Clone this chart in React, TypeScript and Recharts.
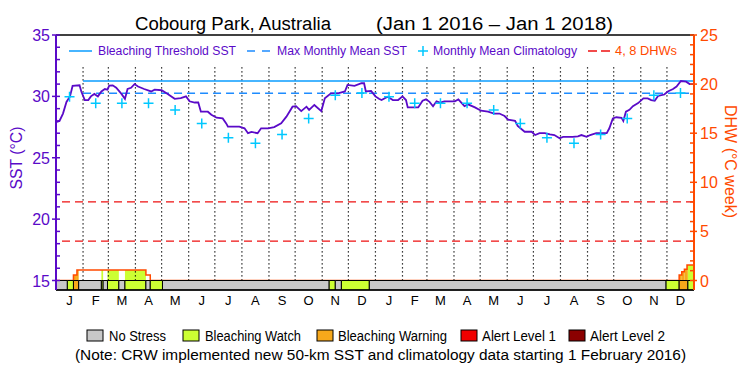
import {
  ComposedChart,
  Line,
  Area,
  XAxis,
  YAxis,
  ReferenceLine,
  ReferenceArea,
} from 'recharts';

// day 0 = Jan 1 2016, day 731 = Jan 1 2018
const monthStarts = [0, 31, 60, 91, 121, 152, 182, 213, 244, 274, 305, 335, 366, 397, 425, 456, 486, 517, 547, 578, 609, 639, 670, 700, 731];
const monthLetters = ['J', 'F', 'M', 'A', 'M', 'J', 'J', 'A', 'S', 'O', 'N', 'D'];
const yearLabels = ['2016', '2017'];
const yearMids = [183, 548];

const sstTicks = [15, 16, 17, 18, 19, 20, 21, 22, 23, 24, 25, 26, 27, 28, 29, 30, 31, 32, 33, 34, 35];
const dhwTicks = [0, 1, 2, 3, 4, 5, 6, 7, 8, 9, 10, 11, 12, 13, 14, 15, 16, 17, 18, 19, 20, 21, 22, 23, 24, 25];

const sstDays = [
  0, 4, 8, 12, 16, 19, 27, 29, 33, 37, 40, 44, 48, 52, 56, 59, 61, 65, 69, 75, 79, 82, 86, 90, 94,
  101, 109, 113, 121, 128, 136, 143, 149, 153, 159, 163, 166, 174, 178, 184, 191, 195, 197, 210,
  216, 220, 224, 231, 235, 243, 250, 258, 264, 271, 275, 281, 287, 290, 296, 304, 308, 315, 323,
  331, 334, 342, 350, 353, 355, 361, 366, 370, 373, 380, 386, 392, 397, 401, 403, 415, 420, 424,
  428, 432, 436, 440, 445, 457, 461, 468, 472, 480, 487, 495, 502, 508, 514, 518, 526, 529, 537,
  545, 549, 554, 560, 566, 571, 577, 581, 592, 598, 602, 608, 612, 619, 631, 634, 638, 642, 648,
  650, 653, 657, 661, 667, 673, 678, 682, 686, 690, 697, 701, 707, 711, 716, 722, 726, 731,
];
const sstValues = [
  27.9, 28.0, 28.6, 29.55, 30.0, 30.85, 30.9, 30.4, 29.7, 29.7, 30.0, 30.2, 30.0, 30.4, 30.6, 30.55,
  30.87, 30.9, 30.7, 30.2, 29.8, 30.6, 30.7, 31.0, 30.8, 30.6, 30.4, 30.55, 30.5, 30.2, 29.8, 29.85,
  30.0, 29.6, 29.5, 29.5, 28.75, 28.75, 28.5, 28.26, 28.2, 27.8, 27.53, 27.53, 27.4, 27.0, 27.1,
  27.0, 27.4, 27.4, 27.5, 27.8, 28.35, 29.16, 29.2, 28.8, 29.16, 28.9, 29.3, 28.8, 29.84, 30.25,
  30.25, 30.4, 30.93, 30.85, 31.07, 31.07, 30.4, 30.45, 30.0, 29.8, 29.7, 29.97, 29.7, 29.7, 30.0,
  29.7, 29.1, 29.1, 29.65, 29.76, 29.55, 29.2, 29.6, 29.5, 29.6, 29.6, 29.75, 29.2, 29.35, 29.1,
  28.83, 28.75, 28.6, 28.6, 28.4, 28.1, 28.0, 27.6, 27.12, 27.12, 26.85, 27.0, 27.0, 26.9, 26.85,
  26.58, 26.7, 26.7, 26.75, 26.85, 26.7, 26.85, 27.0, 27.0, 27.4, 28.2, 28.3, 28.25, 28.0, 28.75,
  28.9, 29.2, 29.45, 29.84, 29.84, 29.7, 29.65, 30.05, 30.15, 30.4, 30.6, 30.8, 31.25, 31.2, 31.0,
  31.0,
];

// monthly mean climatology, Jan..Dec
const climatology = [29.97, 29.44, 29.44, 29.44, 28.9, 27.8, 26.62, 26.18, 26.9, 28.2, 30.1, 30.28];

const maxMonthlyMean = 30.25;
const bleachingThreshold = 31.25;
const newClimStart = 31; // 1 Feb 2016
const dhwLevels = [4, 8];

const dhwDays = [0, 20, 24, 103, 108, 714, 717, 720, 723, 731];
const dhwValues = [0, 0.56, 1.07, 0.56, 0, 0.56, 0.9, 1.14, 1.58, 1.58];

// 0 no stress, 1 watch, 2 warning, 3 alert 1, 4 alert 2
const stressStarts = [0, 13, 20, 26, 52, 54, 59, 72, 79, 103, 108, 122, 313, 320, 327, 359, 699, 714, 724];
const stressLevels = [0, 1, 2, 0, 1, 0, 1, 0, 1, 0, 1, 0, 1, 0, 1, 0, 1, 2, 1];

const stressNames = ['No Stress', 'Bleaching Watch', 'Bleaching Warning', 'Alert Level 1', 'Alert Level 2'];
const stressColors = ['#c8c8c8', '#ccff33', '#f7a81b', '#f00000', '#8b0000'];

const PURPLE = '#5a0ac8';
const ORANGE = '#ff4a00';
const BLUE = '#0a9cff';
const MMM_BLUE = '#1e8cff';
const CYAN = '#00c8ff';
const RED = '#ee1111';
const FONT = '"Liberation Sans", Arial, sans-serif';

const END_DAY = 731;
const SST_MIN = 15 - 9.5 / 12.275;
const DHW_MIN = (SST_MIN - 15) / 0.8;

const sstData = sstDays.map((d, i) => ({ day: d, sst: sstValues[i] }));
const monthMids = monthStarts.slice(0, -1).map((s, i) => (s + monthStarts[i + 1]) / 2);
const climData = monthMids.map((d, i) => ({ day: d, sst: climatology[i % 12] }));
const dhwData = dhwDays.map((d, i) => ({ day: d, dhw: dhwValues[i] }));
const stressSegs = stressStarts.map((s, i) => ({
  x1: s,
  x2: i + 1 < stressStarts.length ? stressStarts[i + 1] : END_DAY,
  level: stressLevels[i],
}));

// colour the area under the DHW curve by stress level
const dhwFills: { x1: number; x2: number; v: number; level: number }[] = [];
for (let i = 0; i < dhwDays.length - 1; i++) {
  const v = dhwValues[i];
  if (v <= 0) continue;
  stressSegs.forEach((s) => {
    if (s.level === 0) return;
    const lo = Math.max(dhwDays[i], s.x1);
    const hi = Math.min(dhwDays[i + 1], s.x2);
    if (hi > lo) dhwFills.push({ x1: lo, x2: hi, v, level: s.level });
  });
}

const LeftTick = (props: any) => {
  const { x, y, payload } = props;
  const v = payload.value;
  const major = v % 5 === 0;
  return (
    <g>
      <line x1={major ? x - 4 : x} x2={x + 4} y1={y} y2={y} stroke={PURPLE} strokeWidth={1.5} />
      {major && (
        <text x={x - 6} y={y + 6} textAnchor="end" fill={PURPLE} fontSize={16} fontFamily={FONT}>
          {v}
        </text>
      )}
    </g>
  );
};

const RightTick = (props: any) => {
  const { x, y, payload } = props;
  const v = payload.value;
  const major = v % 5 === 0;
  return (
    <g>
      <line x1={x - 4} x2={major ? x + 3 : x} y1={y} y2={y} stroke={ORANGE} strokeWidth={1.5} />
      {major && (
        <text x={x + 6} y={y + 6} textAnchor="start" fill={ORANGE} fontSize={16} fontFamily={FONT}>
          {v}
        </text>
      )}
    </g>
  );
};

const MonthTick = (props: any) => {
  const { x, y, index } = props;
  return (
    <text x={x} y={y + 15} textAnchor="middle" fill="#000" fontSize={13} fontFamily={FONT}>
      {monthLetters[index % 12]}
    </text>
  );
};

const YearTick = (props: any) => {
  const { x, y, index } = props;
  return (
    <text x={x} y={y + 13} textAnchor="middle" fill="#000" fontSize={14} fontFamily={FONT}>
      {yearLabels[index]}
    </text>
  );
};

const Cross = (props: any) => {
  const { cx, cy, index } = props;
  if (cx == null || cy == null) return <g key={index} />;
  return (
    <path
      key={index}
      d={`M${cx - 5},${cy}H${cx + 5}M${cx},${cy - 5}V${cy + 5}`}
      stroke={CYAN}
      strokeWidth={1.5}
      fill="none"
    />
  );
};

const bottomLegend = [
  { box: 87, tx: 109, len: 57 },
  { box: 183, tx: 205, len: 96 },
  { box: 317, tx: 338, len: 109 },
  { box: 461, tx: 482, len: 74 },
  { box: 569, tx: 590, len: 75 },
];

const Overlay = () => (
  <svg
    width={750}
    height={375}
    style={{ position: 'absolute', left: 0, top: 0, pointerEvents: 'none' }}
    fontFamily={FONT}
  >
    <text x={135} y={29.5} fontSize={18} textLength={196} lengthAdjust="spacingAndGlyphs">
      Cobourg Park, Australia
    </text>
    <text x={376} y={29.5} fontSize={18} textLength={237} lengthAdjust="spacingAndGlyphs">
      (Jan 1 2016 – Jan 1 2018)
    </text>

    {/* legend inside the plot */}
    <line x1={69} x2={92} y1={51} y2={51} stroke={BLUE} strokeWidth={1.5} />
    <text x={98} y={55} fontSize={12} fill={PURPLE} textLength={138} lengthAdjust="spacingAndGlyphs">
      Bleaching Threshold SST
    </text>
    <line x1={247} x2={270} y1={51} y2={51} stroke={MMM_BLUE} strokeWidth={1.5} strokeDasharray="8 7" />
    <text x={277} y={55} fontSize={12} fill={PURPLE} textLength={130} lengthAdjust="spacingAndGlyphs">
      Max Monthly Mean SST
    </text>
    <path d="M418,51H428M423,46V56" stroke={CYAN} strokeWidth={1.5} />
    <text x={433} y={55} fontSize={12} fill={PURPLE} textLength={144} lengthAdjust="spacingAndGlyphs">
      Monthly Mean Climatology
    </text>
    <line x1={588} x2={610} y1={51} y2={51} stroke={RED} strokeWidth={1.5} strokeDasharray="9 4" />
    <text x={615} y={55} fontSize={12} fill={ORANGE} textLength={62} lengthAdjust="spacingAndGlyphs">
      4, 8 DHWs
    </text>

    {/* axis titles */}
    <text
      transform="translate(16,158) rotate(-90)"
      y={6}
      textAnchor="middle"
      fontSize={16}
      fill={PURPLE}
      textLength={63}
      lengthAdjust="spacingAndGlyphs"
    >
      SST (°C)
    </text>
    <text
      transform="translate(731,161.5) rotate(90)"
      y={6}
      textAnchor="middle"
      fontSize={16}
      fill={ORANGE}
      textLength={113}
      lengthAdjust="spacingAndGlyphs"
    >
      DHW (°C week)
    </text>

    {/* stress legend */}
    {bottomLegend.map((b, i) => (
      <g key={i}>
        <rect x={b.box} y={330} width={16} height={11} fill={stressColors[i]} stroke="#000" strokeWidth={1} />
        <text x={b.tx} y={340.5} fontSize={14} textLength={b.len} lengthAdjust="spacingAndGlyphs">
          {stressNames[i]}
        </text>
      </g>
    ))}
    <text x={75} y={359.5} fontSize={14} textLength={611} lengthAdjust="spacingAndGlyphs">
      (Note: CRW implemented new 50-km SST and climatology data starting 1 February 2016)
    </text>
  </svg>
);

export default function App() {
  return (
    <div style={{ position: 'absolute', left: 0, top: 0, width: 750, height: 375, background: '#fff' }}>
      <ComposedChart width={750} height={375} margin={{ top: 35, right: 0, bottom: 49, left: 0 }}>
        <XAxis
          dataKey="day"
          type="number"
          domain={[0, END_DAY]}
          allowDataOverflow
          ticks={monthMids}
          interval={0}
          tick={<MonthTick />}
          tickLine={false}
          tickSize={0}
          tickMargin={0}
          height={18}
          axisLine={{ stroke: '#000', strokeWidth: 1.5 }}
        />
        <XAxis
          xAxisId="yr"
          type="number"
          domain={[0, END_DAY]}
          allowDataOverflow
          ticks={yearMids}
          interval={0}
          tick={<YearTick />}
          tickLine={false}
          tickSize={0}
          tickMargin={0}
          height={18}
          axisLine={false}
        />
        <YAxis
          yAxisId="sst"
          orientation="left"
          width={56}
          type="number"
          domain={[SST_MIN, 35]}
          allowDataOverflow
          ticks={sstTicks}
          interval={0}
          tick={<LeftTick />}
          tickLine={false}
          tickSize={0}
          tickMargin={0}
          axisLine={{ stroke: PURPLE, strokeWidth: 2 }}
        />
        <YAxis
          yAxisId="dhw"
          orientation="right"
          width={56}
          type="number"
          domain={[DHW_MIN, 25]}
          allowDataOverflow
          ticks={dhwTicks}
          interval={0}
          tick={<RightTick />}
          tickLine={false}
          tickSize={0}
          tickMargin={0}
          axisLine={{ stroke: ORANGE, strokeWidth: 2 }}
        />

        {monthStarts.slice(1, -1).map((d) => (
          <ReferenceLine
            key={`m${d}`}
            yAxisId="sst"
            segment={[
              { x: d, y: 15 },
              { x: d, y: 32.55 },
            ]}
            stroke="#000"
            strokeWidth={1.2}
            strokeDasharray="1.2 2.8"
            ifOverflow="visible"
          />
        ))}

        {dhwFills.map((f, i) => (
          <ReferenceArea
            key={`f${i}`}
            yAxisId="dhw"
            x1={f.x1}
            x2={f.x2}
            y1={0}
            y2={f.v}
            fill={stressColors[f.level]}
            fillOpacity={1}
            stroke="none"
            ifOverflow="visible"
          />
        ))}

        <Area
          yAxisId="dhw"
          data={dhwData}
          dataKey="dhw"
          type="stepAfter"
          stroke={ORANGE}
          strokeWidth={1.5}
          fill="none"
          dot={false}
          activeDot={false}
          isAnimationActive={false}
        />

        {stressSegs.map((s, i) => (
          <ReferenceArea
            key={`s${i}`}
            yAxisId="dhw"
            x1={s.x1}
            x2={s.x2}
            y1={DHW_MIN}
            y2={0}
            fill={stressColors[s.level]}
            fillOpacity={1}
            stroke="#000"
            strokeWidth={1}
            ifOverflow="visible"
          />
        ))}

        <ReferenceLine yAxisId="sst" y={35} stroke="#000" strokeWidth={1.5} ifOverflow="visible" />
        {dhwLevels.map((v) => (
          <ReferenceLine
            key={`d${v}`}
            yAxisId="dhw"
            y={v}
            stroke={RED}
            strokeWidth={1.2}
            strokeDasharray="8 5"
          />
        ))}
        <ReferenceLine
          yAxisId="sst"
          segment={[
            { x: newClimStart, y: maxMonthlyMean },
            { x: END_DAY, y: maxMonthlyMean },
          ]}
          stroke={MMM_BLUE}
          strokeWidth={1.5}
          strokeDasharray="8 5"
        />
        <ReferenceLine
          yAxisId="sst"
          segment={[
            { x: newClimStart, y: bleachingThreshold },
            { x: END_DAY, y: bleachingThreshold },
          ]}
          stroke={BLUE}
          strokeWidth={1.5}
        />

        <Line
          yAxisId="sst"
          data={sstData}
          dataKey="sst"
          type="linear"
          stroke={PURPLE}
          strokeWidth={1.8}
          dot={false}
          activeDot={false}
          isAnimationActive={false}
        />
        <Line
          yAxisId="sst"
          data={climData}
          dataKey="sst"
          stroke="none"
          dot={<Cross />}
          activeDot={false}
          isAnimationActive={false}
        />
      </ComposedChart>
      <Overlay />
    </div>
  );
}
